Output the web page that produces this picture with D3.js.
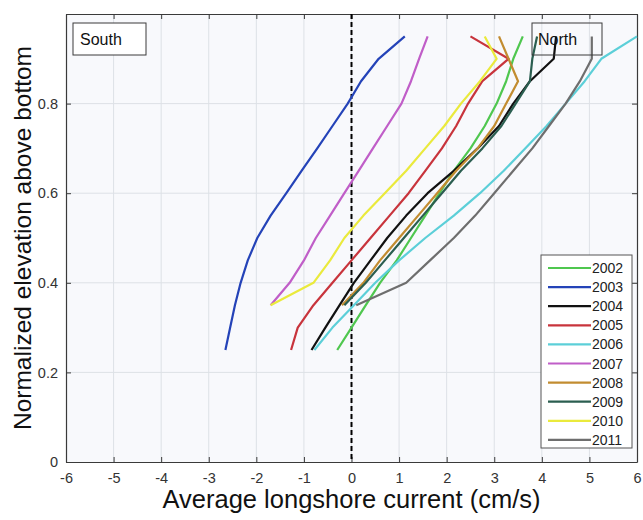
<!DOCTYPE html>
<html>
<head>
<meta charset="utf-8">
<script src="https://d3js.org/d3.v7.min.js"></script>
<style>
  body { margin: 0; background: #fff; }
  text { font-family: "Liberation Sans", Arial, sans-serif; }
</style>
</head>
<body>
<script>
// elevation levels (normalized), shared by all profiles
var levels = [0.25, 0.3, 0.35, 0.4, 0.45, 0.5, 0.55, 0.6, 0.65, 0.7, 0.75, 0.8, 0.85, 0.9, 0.95];

var years = ["2002", "2003", "2004", "2005", "2006", "2007", "2008", "2009", "2010", "2011"];
var colors = ["#4fc74f", "#2443b8", "#111111", "#c8343c", "#5ccfd8", "#c05ec8", "#c28c30", "#2b5e50", "#eaea3c", "#6e6e6e"];

// current (cm/s) per level; null where the profile does not reach
var v2002 = [-0.3, 0.0, 0.3, 0.6, 0.95, 1.25, 1.55, 1.85, 2.15, 2.5, 2.8, 3.05, 3.25, 3.4, 3.6];
var v2003 = [-2.65, -2.55, -2.45, -2.33, -2.18, -1.98, -1.7, -1.37, -1.05, -0.72, -0.4, -0.08, 0.2, 0.57, 1.12];
var v2004 = [-0.84, -0.55, -0.25, 0.05, 0.4, 0.75, 1.15, 1.6, 2.15, 2.65, 3.1, 3.4, 3.75, 4.25, 4.3];
var v2005 = [-1.27, -1.13, -0.8, -0.4, 0.0, 0.4, 0.8, 1.2, 1.55, 1.9, 2.2, 2.45, 2.75, 3.3, 2.5];
var v2006 = [-0.78, -0.4, 0.05, 0.5, 1.0, 1.55, 2.15, 2.7, 3.2, 3.65, 4.1, 4.5, 4.9, 5.25, 6.0];
var v2007 = [null, null, -1.7, -1.3, -1.0, -0.75, -0.45, -0.15, 0.15, 0.45, 0.75, 1.05, 1.25, 1.42, 1.6];
var v2008 = [null, null, -0.2, 0.25, 0.6, 1.0, 1.4, 1.8, 2.2, 2.65, 3.0, 3.25, 3.5, 3.3, 3.1];
var v2009 = [null, null, -0.15, 0.3, 0.7, 1.1, 1.5, 1.9, 2.3, 2.75, 3.15, 3.45, 3.75, 3.8, 3.9];
var v2010 = [null, null, -1.7, -0.8, -0.45, -0.15, 0.25, 0.7, 1.15, 1.55, 1.95, 2.3, 2.7, 3.05, 2.8];
var v2011 = [null, null, 0.1, 1.15, 1.65, 2.15, 2.6, 3.0, 3.4, 3.8, 4.15, 4.5, 4.8, 5.05, 5.05];
var series = [v2002, v2003, v2004, v2005, v2006, v2007, v2008, v2009, v2010, v2011];

var xTicks = [-6, -5, -4, -3, -2, -1, 0, 1, 2, 3, 4, 5, 6];
var yTicks = [0, 0.2, 0.4, 0.6, 0.8, 1];

var W = 643, H = 520;
var pL = 66, pR = 637, pT = 14, pB = 462;

var svg = d3.select("body").append("svg")
    .attr("width", W)
    .attr("height", H);

var x = d3.scaleLinear().domain([-6, 6]).range([pL, pR]);
var y = d3.scaleLinear().domain([0, 1]).range([pB, pT]);

// plot background
svg.append("rect")
    .attr("x", pL).attr("y", pT)
    .attr("width", pR - pL).attr("height", pB - pT)
    .attr("fill", "#f8f9fc");

// grid
svg.append("g").selectAll("line").data(xTicks.slice(1, -1)).join("line")
    .attr("x1", d => x(d)).attr("x2", d => x(d))
    .attr("y1", pT).attr("y2", pB)
    .attr("stroke", "#dde1e6").attr("stroke-width", 1);
svg.append("g").selectAll("line").data(yTicks.slice(1, -1)).join("line")
    .attr("y1", d => y(d)).attr("y2", d => y(d))
    .attr("x1", pL).attr("x2", pR)
    .attr("stroke", "#dde1e6").attr("stroke-width", 1);

// axes (ticks pointing inward, matlab style)
var xAxis = svg.append("g")
    .attr("transform", "translate(0," + pB + ")")
    .call(d3.axisBottom(x).tickValues(xTicks).tickSizeInner(-5).tickSizeOuter(0).tickPadding(11)
      .tickFormat(d => String(d)));
var xAxisTop = svg.append("g")
    .attr("transform", "translate(0," + pT + ")")
    .call(d3.axisTop(x).tickValues(xTicks).tickSizeInner(-5).tickSizeOuter(0).tickFormat(""));
var yAxis = svg.append("g")
    .attr("transform", "translate(" + pL + ",0)")
    .call(d3.axisLeft(y).tickValues(yTicks).tickSizeInner(-5).tickSizeOuter(0).tickPadding(8)
      .tickFormat(d => d === 1 ? "" : String(d)));
var yAxisR = svg.append("g")
    .attr("transform", "translate(" + pR + ",0)")
    .call(d3.axisRight(y).tickValues(yTicks).tickSizeInner(-5).tickSizeOuter(0).tickFormat(""));

[xAxis, xAxisTop, yAxis, yAxisR].forEach(function(g) {
  g.select(".domain").attr("stroke", "#3a3a3a").attr("stroke-width", 1.2);
  g.selectAll(".tick line").attr("stroke", "#3a3a3a");
  g.selectAll(".tick text").attr("fill", "#333").style("font-size", "14.5px")
    .style("font-family", "'Liberation Sans', Arial, sans-serif");
});

// zero line
svg.append("line")
    .attr("x1", x(0)).attr("x2", x(0))
    .attr("y1", pT).attr("y2", pB)
    .attr("stroke", "#000").attr("stroke-width", 2)
    .attr("stroke-dasharray", "5,3");

// profiles
var line = d3.line()
    .defined(d => d[0] !== null)
    .x(d => x(d[0]))
    .y(d => y(d[1]));

var plot = svg.append("g");
series.forEach(function(vals, i) {
  var pts = vals.map((v, k) => [v, levels[k]]);
  plot.append("path")
      .datum(pts)
      .attr("d", line)
      .attr("fill", "none")
      .attr("stroke", colors[i])
      .attr("stroke-width", 2.2)
      .attr("stroke-linejoin", "round");
});

// South / North boxes
svg.append("rect")
    .attr("x", 73).attr("y", 23).attr("width", 73).attr("height", 32)
    .attr("fill", "#fff").attr("stroke", "#3a3a3a").attr("stroke-width", 1);
svg.append("text")
    .attr("x", 80).attr("y", 45)
    .style("font-size", "16px").attr("fill", "#111")
    .text("South");
svg.append("rect")
    .attr("x", 532).attr("y", 23).attr("width", 70).attr("height", 32)
    .attr("fill", "none").attr("stroke", "#3a3a3a").attr("stroke-width", 1);
svg.append("text")
    .attr("x", 538).attr("y", 45)
    .style("font-size", "16px").attr("fill", "#111")
    .text("North");

// legend
var lg = svg.append("g");
lg.append("rect")
    .attr("x", 541).attr("y", 255).attr("width", 91).attr("height", 193)
    .attr("fill", "#fff").attr("stroke", "#555").attr("stroke-width", 1);
years.forEach(function(yr, i) {
  var yy = 268 + i * 19.1;
  lg.append("line")
      .attr("x1", 548).attr("x2", 591)
      .attr("y1", yy).attr("y2", yy)
      .attr("stroke", colors[i]).attr("stroke-width", 2.2);
  lg.append("text")
      .attr("x", 592).attr("y", yy + 5)
      .style("font-size", "14px").attr("fill", "#222")
      .text(yr);
});

// axis titles
svg.append("text")
    .attr("x", x(0)).attr("y", 508)
    .attr("text-anchor", "middle")
    .style("font-size", "25.5px").attr("fill", "#111")
    .text("Average longshore current (cm/s)");
svg.append("text")
    .attr("transform", "translate(31," + (pT + pB) / 2 + ") rotate(-90)")
    .attr("text-anchor", "middle")
    .style("font-size", "24.5px").attr("fill", "#111")
    .text("Normalized elevation above bottom");
</script>
</body>
</html>
